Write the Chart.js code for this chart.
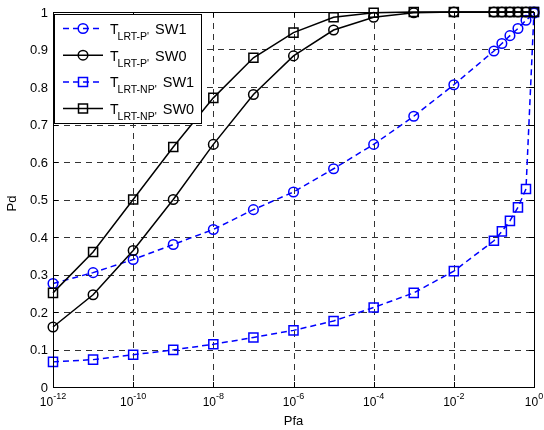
<!DOCTYPE html>
<html>
<head>
<meta charset="utf-8">
<script src="https://cdn.jsdelivr.net/npm/chart.js@4.4.1/dist/chart.umd.min.js"></script>
<style>
  html, body { margin: 0; padding: 0; background: #fff; }
  canvas { display: block; }
</style>
</head>
<body>
<canvas id="chart" width="544" height="430"></canvas>
<script>
// false alarm probabilities (x) shared by all four curves
const pfa = [1e-12, 1e-11, 1e-10, 1e-9, 1e-8, 1e-7, 1e-6, 1e-5, 1e-4, 1e-3, 1e-2, 1e-1,
  0.158, 0.251, 0.398, 0.631, 1]

// detection probabilities
const pdPSw1 = [0.276, 0.305, 0.340, 0.380, 0.420, 0.473, 0.520, 0.582, 0.647, 0.722, 0.806, 0.896,
  0.916, 0.937, 0.956, 0.978, 0.997]
const pdPSw0 = [0.160, 0.246, 0.364, 0.500, 0.647, 0.780, 0.883, 0.952, 0.986, 0.998, 1, 1,
  1, 1, 1, 1, 1]
const pdNpSw1 = [0.067, 0.073, 0.086, 0.099, 0.114, 0.132, 0.151, 0.176, 0.212, 0.251, 0.309, 0.390,
  0.415, 0.443, 0.479, 0.528, 1]
const pdNpSw0 = [0.251, 0.360, 0.500, 0.640, 0.771, 0.878, 0.945, 0.986, 0.998, 1, 1, 1,
  1, 1, 1, 1, 1]

const yTicks = [0, 0.1, 0.2, 0.3, 0.4, 0.5, 0.6, 0.7, 0.8, 0.9, 1]
const yTickLabels = ["0", "0.1", "0.2", "0.3", "0.4", "0.5", "0.6", "0.7", "0.8", "0.9", "1"]
const xTicks = [1e-12, 1e-10, 1e-8, 1e-6, 1e-4, 1e-2, 1]
const xTickExps = ["-12", "-10", "-8", "-6", "-4", "-2", "0"]

// legend: T with subscript, then the tail text
const legendSubs = ["LRT-P'", "LRT-P'", "LRT-NP'", "LRT-NP'"]
const legendTails = ["SW1", "SW0", "SW1", "SW0"]

const FONT = "'Liberation Sans', Arial, Helvetica, sans-serif"
const BLUE = "#0000ff"

const series = [
  { data: pdPSw1, color: BLUE, dash: [6, 4], style: "circle" },
  { data: pdPSw0, color: "#000", dash: [], style: "circle" },
  { data: pdNpSw1, color: BLUE, dash: [6, 4], style: "rect" },
  { data: pdNpSw0, color: "#000", dash: [], style: "rect" }
]

function drawMarker(ctx, style, x, y) {
  ctx.beginPath()
  if (style === "circle") {
    ctx.arc(x, y, 4.8, 0, Math.PI * 2)
  } else {
    ctx.rect(x - 4.5, y - 4.5, 9, 9)
  }
  ctx.stroke()
}

const matlabAxes = {
  id: "matlabAxes",
  beforeDatasetsDraw(chart) {
    const { ctx, chartArea: a, scales } = chart
    ctx.save()
    ctx.strokeStyle = "#333"
    ctx.lineWidth = 1
    ctx.setLineDash([6, 5])
    yTicks.slice(1, -1).forEach(v => {
      const y = Math.round(scales.y.getPixelForValue(v)) + 0.5
      ctx.beginPath()
      ctx.moveTo(a.left, y)
      ctx.lineTo(a.right, y)
      ctx.stroke()
    })
    xTicks.slice(1, -1).forEach(v => {
      const x = Math.round(scales.x.getPixelForValue(v)) + 0.5
      ctx.beginPath()
      ctx.moveTo(x, a.top)
      ctx.lineTo(x, a.bottom)
      ctx.stroke()
    })
    ctx.restore()
  },
  afterDatasetsDraw(chart) {
    const { ctx, chartArea: a, scales } = chart
    ctx.save()
    ctx.setLineDash([])
    ctx.strokeStyle = "#000"
    ctx.lineWidth = 1

    // box
    ctx.strokeRect(a.left + 0.5, a.top + 0.5, a.right - a.left, a.bottom - a.top)

    // inward ticks
    ctx.beginPath()
    yTicks.forEach(v => {
      const y = Math.round(scales.y.getPixelForValue(v)) + 0.5
      ctx.moveTo(a.left, y); ctx.lineTo(a.left + 5, y)
      ctx.moveTo(a.right, y); ctx.lineTo(a.right - 5, y)
    })
    xTicks.forEach(v => {
      const x = Math.round(scales.x.getPixelForValue(v)) + 0.5
      ctx.moveTo(x, a.bottom); ctx.lineTo(x, a.bottom - 5)
      ctx.moveTo(x, a.top); ctx.lineTo(x, a.top + 5)
    })
    ctx.stroke()

    // y tick labels
    ctx.fillStyle = "#000"
    ctx.font = `13px ${FONT}`
    ctx.textAlign = "right"
    ctx.textBaseline = "middle"
    yTicks.forEach((v, i) => {
      ctx.fillText(yTickLabels[i], a.left - 5, scales.y.getPixelForValue(v) + 1)
    })

    // x tick labels 10^n
    ctx.textAlign = "left"
    ctx.textBaseline = "alphabetic"
    xTicks.forEach((v, i) => {
      const x = scales.x.getPixelForValue(v)
      ctx.font = `12px ${FONT}`
      const wBase = ctx.measureText("10").width
      ctx.font = `9px ${FONT}`
      const wExp = ctx.measureText(xTickExps[i]).width
      const start = x - (wBase + wExp) / 2
      ctx.font = `12px ${FONT}`
      ctx.fillText("10", start, a.bottom + 19)
      ctx.font = `9px ${FONT}`
      ctx.fillText(xTickExps[i], start + wBase, a.bottom + 12)
    })

    // axis titles
    ctx.font = `13px ${FONT}`
    ctx.textAlign = "center"
    ctx.fillText("Pfa", (a.left + a.right) / 2, a.bottom + 38)
    ctx.save()
    ctx.translate(16, (a.top + a.bottom) / 2 + 4)
    ctx.rotate(-Math.PI / 2)
    ctx.fillText("Pd", 0, 0)
    ctx.restore()

    // legend
    const lx = 54.5, ly = 14.5, lw = 147, lh = 109
    ctx.fillStyle = "#fff"
    ctx.fillRect(lx, ly, lw, lh)
    ctx.strokeStyle = "#000"
    ctx.strokeRect(lx, ly, lw, lh)
    series.forEach((s, i) => {
      const cy = 28.5 + i * 26.7
      ctx.strokeStyle = s.color
      ctx.lineWidth = 1.5
      ctx.setLineDash(s.dash)
      ctx.beginPath()
      ctx.moveTo(63, cy)
      ctx.lineTo(103, cy)
      ctx.stroke()
      ctx.setLineDash([])
      drawMarker(ctx, s.style, 83, cy)

      ctx.fillStyle = "#000"
      ctx.textAlign = "left"
      ctx.font = `14px ${FONT}`
      ctx.fillText("T", 110, cy + 5.5)
      const wT = ctx.measureText("T").width
      ctx.font = `10.5px ${FONT}`
      ctx.fillText(legendSubs[i], 110 + wT - 1, cy + 11.5)
      const wSub = ctx.measureText(legendSubs[i]).width
      ctx.font = `14.5px ${FONT}`
      ctx.fillText(legendTails[i], 110 + wT - 1 + wSub + 6, cy + 5.5)
    })
    ctx.restore()
  }
}

const datasets = series.map((s, i) => ({
  label: legendSubs[i] + " " + legendTails[i],
  data: pfa.map((x, k) => ({ x, y: s.data[k] })),
  borderColor: s.color,
  borderWidth: 1.5,
  borderDash: s.dash,
  pointStyle: s.style,
  pointRadius: s.style === "rect" ? 6.4 : 4.8,
  pointBorderWidth: 1.5,
  pointBorderColor: s.color,
  pointBackgroundColor: "rgba(0,0,0,0)",
  fill: false,
  tension: 0,
  clip: false,
  order: series.length - i
}))

new Chart(document.getElementById("chart").getContext("2d"), {
  type: "line",
  data: { datasets },
  options: {
    responsive: false,
    animation: false,
    layout: { padding: { left: 53, right: 10, top: 12, bottom: 43 } },
    scales: {
      x: { type: "logarithmic", min: 1e-12, max: 1, display: false },
      y: { type: "linear", min: 0, max: 1, display: false }
    },
    plugins: {
      legend: { display: false },
      tooltip: { enabled: false }
    }
  },
  plugins: [matlabAxes]
})
</script>
</body>
</html>
